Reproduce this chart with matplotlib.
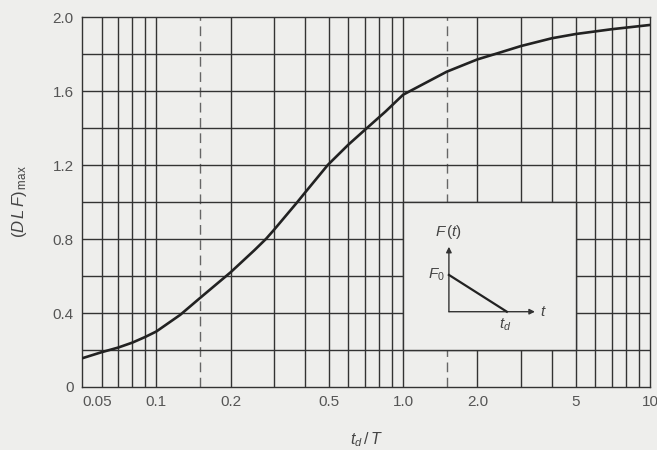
import matplotlib
matplotlib.use('Agg')
import matplotlib.pyplot as plt
from matplotlib.patches import Rectangle

# max dynamic load factor for a triangular pulse
td_T = [0.05, 0.06, 0.07, 0.08, 0.09, 0.1, 0.125, 0.15, 0.2, 0.25, 0.278,
        0.3, 0.373, 0.4, 0.495, 0.6, 0.7, 0.85, 1.0, 1.5, 2.0, 2.4, 3.0,
        4.0, 5.0, 7.0, 10.0]
dlf_max = [0.155, 0.188, 0.213, 0.24, 0.27, 0.30, 0.39, 0.48, 0.62, 0.74,
           0.80, 0.85, 1.0, 1.05, 1.2, 1.31, 1.39, 1.49, 1.58, 1.704,
           1.771, 1.803, 1.843, 1.885, 1.908, 1.934, 1.957]

xtick_vals = [0.05, 0.1, 0.2, 0.5, 1.0, 2.0, 5, 10]
xtick_text = ['0.05', '0.1', '0.2', '0.5', '1.0', '2.0', '5', '10']
ytick_vals = [0, 0.4, 0.8, 1.2, 1.6, 2.0]
ytick_text = ['0', '0.4', '0.8', '1.2', '1.6', '2.0']
vgrid = [0.06, 0.07, 0.08, 0.09, 0.1, 0.2, 0.3, 0.4, 0.5, 0.6, 0.7, 0.8,
         0.9, 1.0, 2, 3, 4, 5, 6, 7, 8, 9]
vgrid_dashed = [0.15, 1.5]
hgrid = [0.2, 0.4, 0.6, 0.8, 1.0, 1.2, 1.4, 1.6, 1.8]

bg = '#eeeeec'
ink = '#333333'
plt.rcParams['font.family'] = ['Liberation Sans', 'DejaVu Sans']
plt.rcParams['mathtext.fontset'] = 'custom'
plt.rcParams['mathtext.rm'] = 'Liberation Sans'
plt.rcParams['mathtext.it'] = 'Liberation Sans:italic'

fig = plt.figure(figsize=(6.57, 4.5), dpi=100, facecolor=bg)
ax = fig.add_axes([0.1248, 0.14, 0.8645, 0.8222], facecolor=bg)
ax.set_xscale('log')
ax.set_xlim(0.05, 10)
ax.set_ylim(0, 2.0)

for v in vgrid:
    ax.axvline(v, color=ink, lw=1.0, zorder=1)
for v in vgrid_dashed:
    ax.axvline(v, color='#666666', lw=1.0, ls=(0, (7, 4)), zorder=1)
for h in hgrid:
    ax.axhline(h, color=ink, lw=1.0, zorder=1)

# blank panel for the pulse sketch
ax.add_patch(Rectangle((1.0, 0.2), 4.0, 0.8, facecolor=bg, edgecolor=ink,
                       lw=1.0, zorder=2))

ax.plot(td_T, dlf_max, color='#222222', lw=1.9, zorder=3)

for s in ax.spines.values():
    s.set_color(ink)
    s.set_linewidth(1.0)

ax.set_xticks(xtick_vals)
ax.set_xticklabels(xtick_text)
ax.xaxis.set_minor_locator(matplotlib.ticker.NullLocator())
ax.set_yticks(ytick_vals)
ax.set_yticklabels(ytick_text)
ax.tick_params(length=0, labelsize=11, labelcolor='#555555', pad=6)
ax.get_xticklabels()[0].set_ha('left')

ax.set_ylabel(r'$(D\,L\,F)_{\,\mathrm{max}}$', fontsize=12, color='#444444')
ax.yaxis.set_label_coords(-0.093, 0.5)
ax.set_xlabel(r'$t_d\,/\,T$', fontsize=11.5, color='#444444')
ax.xaxis.set_label_coords(0.5, -0.118)

# inset sketch of the triangular load
tr = ax.transAxes
ox, oy = 0.646, 0.2035
ax.annotate('', xy=(ox, 0.379), xytext=(ox, oy), xycoords=tr,
            arrowprops=dict(arrowstyle='-|>', lw=1.0, color=ink,
                            mutation_scale=8, shrinkA=0, shrinkB=0), zorder=4)
ax.annotate('', xy=(0.7975, oy), xytext=(ox, oy), xycoords=tr,
            arrowprops=dict(arrowstyle='-|>', lw=1.0, color=ink,
                            mutation_scale=8, shrinkA=0, shrinkB=0), zorder=4)
ax.plot([ox, 0.748], [0.303, oy], transform=tr, color='#222222', lw=1.6,
        zorder=4)
ax.text(ox, 0.42, r'$F\,(t)$', transform=tr, ha='center', va='center',
        fontsize=11, color='#444444')
ax.text(0.639, 0.303, r'$F_0$', transform=tr, ha='right', va='center',
        fontsize=11, color='#444444')
ax.text(0.813, oy, r'$t$', transform=tr, ha='center', va='center',
        fontsize=11, color='#444444')
ax.text(0.745, 0.168, r'$t_d$', transform=tr, ha='center', va='center',
        fontsize=11, color='#444444')

fig.savefig('out.png', dpi=100, facecolor=bg)
